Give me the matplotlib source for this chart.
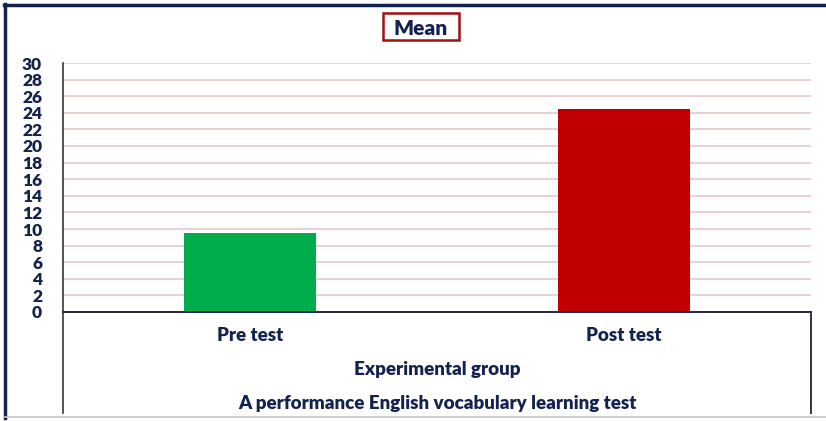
import matplotlib
matplotlib.use("Agg")
import matplotlib.pyplot as plt
from matplotlib.lines import Line2D
from matplotlib.patches import Rectangle

categories = ["Pre test", "Post test"]
values = [9.5, 24.5]
colors = ["#00ac4c", "#c00000"]
yticks = list(range(0, 31, 2))
title = "Mean"
group_label = "Experimental group"
test_label = "A performance English vocabulary learning test"

W, H = 826, 421
fig = plt.figure(figsize=(W / 100, H / 100), dpi=100)
navy = "#14224f"
font = ["Lato", "DejaVu Sans"]

def fx(px):
    return px / W

def fy(py):
    return 1 - py / H

ax = fig.add_axes([fx(63), fy(312), fx(811) - fx(63), fy(63) - fy(312)])
x = list(range(len(categories)))
ax.bar(x, values, width=0.353, color=colors, zorder=3)
ax.set_xlim(-0.5, 1.5)
ax.set_ylim(0, 30)
ax.set_yticks(yticks)
ax.set_yticklabels([str(t) for t in yticks], fontsize=12.5, fontweight="heavy",
                   color=navy, family=font)
ax.set_xticks([])
ax.yaxis.grid(True, color="#e8c9c9", linewidth=1.2, zorder=0)
ax.tick_params(axis="y", length=0, pad=15)
for s in ["top", "right"]:
    ax.spines[s].set_visible(False)
ax.spines["left"].set_color("#333344")
ax.spines["bottom"].set_color("#2a2a44")
ax.spines["left"].set_linewidth(1.2)
ax.spines["bottom"].set_linewidth(1.4)
ax.spines["left"].set_zorder(4)
ax.spines["bottom"].set_zorder(4)

# category labels below axis (baseline at y=341 px)
for i, c in enumerate(categories):
    ax.annotate(c, xy=(i, 0), xycoords="data", xytext=(0, -(341 - 312) * 0.72),
                textcoords="offset points", ha="center", va="baseline",
                fontsize=13.5, fontweight="heavy", color=navy, family=font)

fig.text(fx(437), fy(375), group_label, ha="center", va="baseline", fontsize=13.5,
         fontweight="heavy", color=navy, family=font)
fig.text(fx(437), fy(409), test_label, ha="center", va="baseline", fontsize=13.5,
         fontweight="heavy", color=navy, family=font)

# lower box lines
fig.add_artist(Line2D([fx(63), fx(63)], [fy(312), fy(413)], color="#333344", lw=1.2))
fig.add_artist(Line2D([fx(811), fx(811)], [fy(312), fy(413)], color="#333344", lw=1.4))
fig.add_artist(Line2D([fx(63), fx(811)], [fy(312), fy(312)], color="#2a2a44", lw=1.4))

# outer frame
fig.add_artist(Line2D([fx(4), fx(826)], [fy(4.5), fy(4.5)], color=navy, lw=2.5))
fig.add_artist(Line2D([fx(5), fx(5)], [fy(3.5), fy(418)], color=navy, lw=2.5))
fig.add_artist(Line2D([fx(5), fx(826)], [fy(417), fy(417)], color="#c8c8c8", lw=1.2))

# title in box
fig.add_artist(Rectangle((fx(383), fy(40)), fx(459) - fx(383), fy(13) - fy(40),
                         transform=fig.transFigure, facecolor="white",
                         edgecolor="#a01010", linewidth=1.8))
fig.text(fx(421), fy(35), title, ha="center", va="baseline", fontsize=15,
         fontweight="heavy", color=navy, family=font)

fig.savefig("out.png", dpi=100)
